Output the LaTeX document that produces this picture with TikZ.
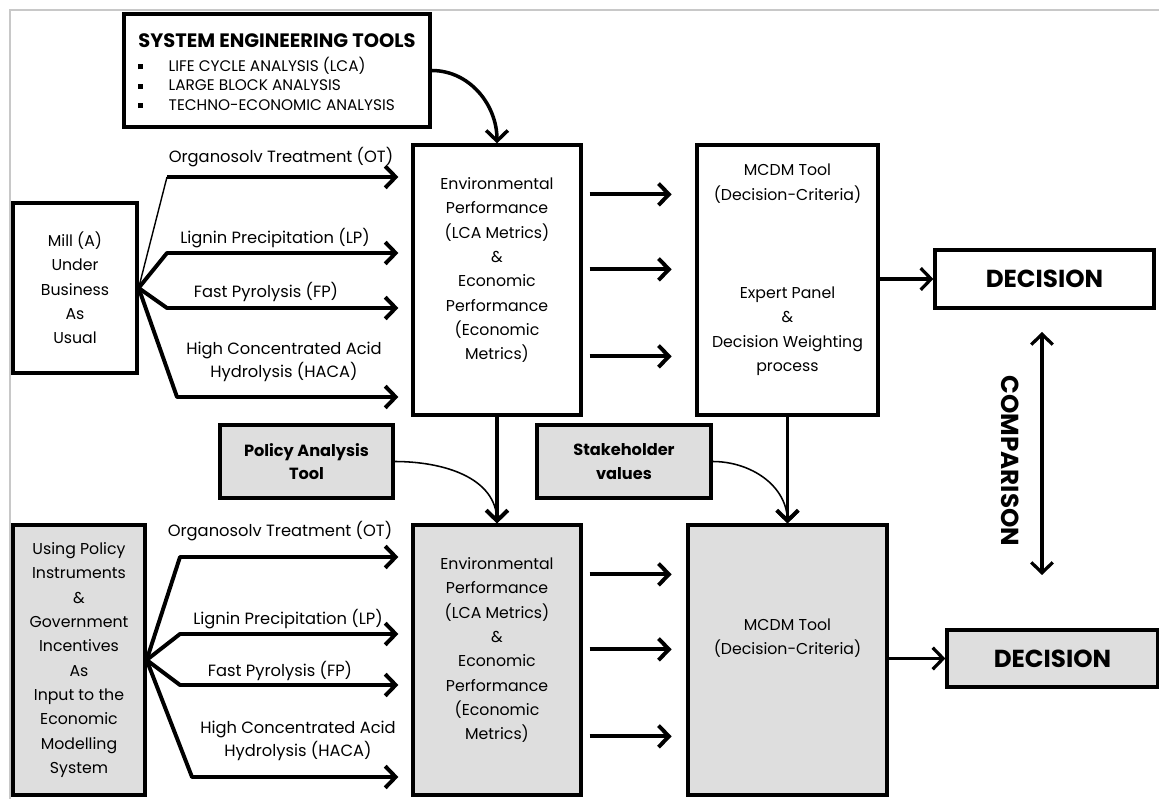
\documentclass[tikz,border=0pt]{standalone}
\usepackage{fontspec}
\setmainfont{Poppins}
\usepackage{tikz}
\usetikzlibrary{arrows.meta}
\definecolor{boxgrey}{RGB}{222,222,222}
\definecolor{framegrey}{RGB}{200,200,200}

\begin{document}
\begin{tikzpicture}[x=0.025cm, y=-0.025cm,
    >={Straight Barb[length=2.6mm, width=5.4mm]},
    every node/.style={font=\fontsize{11.2}{17.3}\selectfont},
    box/.style={draw, line width=2.3pt, inner sep=0pt, align=center},
    greybox/.style={box, fill=boxgrey},
    boldtext/.style={font=\bfseries\fontsize{11.5}{16.5}\selectfont},
    bigtext/.style={font=\bfseries\fontsize{17.5}{20}\selectfont},
    flow/.style={line width=2.8pt, ->, line join=round},
    thinflow/.style={line width=1.1pt, ->},
    route/.style={align=center, font=\fontsize{11.6}{16.5}\selectfont}]

\useasboundingbox (0,0) rectangle (1159,799);
\draw[framegrey, line width=1.4pt] (1159,10) -- (10,10) -- (10,799);

\node[box, minimum width=7.65cm, minimum height=2.825cm,
      font=\fontsize{10.9}{13.8}\selectfont] (tools) at (277,70.5) {%
  \raisebox{-3pt}[\height][\depth]{%
  \begin{tabular}{@{}l@{\hspace{18pt}}l@{}}
    \multicolumn{2}{@{}l@{}}{\bfseries\fontsize{13.8}{18}\selectfont SYSTEM ENGINEERING TOOLS}\\[3pt]
    \rule[1.5pt]{3.5pt}{3.5pt} & LIFE CYCLE ANALYSIS (LCA)\\
    \rule[1.5pt]{3.5pt}{3.5pt} & LARGE BLOCK ANALYSIS\\
    \rule[1.5pt]{3.5pt}{3.5pt} & TECHNO-ECONOMIC ANALYSIS
  \end{tabular}}};

\node[box, minimum width=3.1cm, minimum height=4.25cm] (millA) at (75,288)
  {Mill (A)\\Under\\Business\\As\\Usual};
\node[box, minimum width=4.2cm, minimum height=6.75cm] (envA) at (497,280) {};
\node[align=center] (envAtext) at (497,270)
  {Environmental\\Performance\\(LCA Metrics)\\\&\\Economic\\Performance\\(Economic\\Metrics)};
\node[box, minimum width=4.525cm, minimum height=6.75cm] (mcdmA) at (787.5,280) {};
\node[align=center] (mcdmAtext) at (787.5,270)
  {MCDM Tool\\(Decision-Criteria)\\[1.85cm]Expert Panel\\\&\\Decision Weighting\\process};
\node[box, bigtext, minimum width=5.475cm, minimum height=1.45cm] (decA) at (1044.5,279) {DECISION};

\node[greybox, minimum width=3.3cm, minimum height=6.75cm] (policyIn) at (79,660)
  {Using Policy\\Instruments\\\&\\Government\\Incentives\\As\\Input to the\\Economic\\Modelling\\System};
\node[greybox, boldtext, minimum width=4.325cm, minimum height=1.825cm] (policy) at (306.5,461.5)
  {Policy Analysis\\Tool};
\node[greybox, boldtext, minimum width=4.35cm, minimum height=1.825cm] (stake) at (624,461.5)
  {Stakeholder\\values};
\node[greybox, minimum width=4.2cm, minimum height=6.75cm] (envB) at (497,660) {};
\node[align=center] (envBtext) at (497,650)
  {Environmental\\Performance\\(LCA Metrics)\\\&\\Economic\\Performance\\(Economic\\Metrics)};
\node[greybox, minimum width=4.975cm, minimum height=6.75cm] (mcdmB) at (787.5,660) {};
\node[align=center] (mcdmBtext) at (787.5,638) {MCDM Tool\\(Decision-Criteria)};
\node[greybox, bigtext, minimum width=5.275cm, minimum height=1.425cm] (decB) at (1052.5,658.5) {DECISION};

\node[route] (otA) at (281,157) {Organosolv Treatment (OT)};
\node[route] (lpA) at (275,238) {Lignin Precipitation (LP)};
\node[route] (fpA) at (266,292) {Fast Pyrolysis (FP)};
\node[route] (hacaA) at (284,362) {High Concentrated Acid\\Hydrolysis (HACA)};
\node[route] (otB) at (280,531) {Organosolv Treatment (OT)};
\node[route] (lpB) at (288,619) {Lignin Precipitation (LP)};
\node[route] (fpB) at (280,671) {Fast Pyrolysis (FP)};
\node[route] (hacaB) at (298,741) {High Concentrated Acid\\Hydrolysis (HACA)};

\draw[flow, line width=2.5pt] (tools.east) to[out=0, in=90] (envA.north);

\draw[line width=1pt] (millA.east) -- (167,177);
\draw[flow, shorten >=0.325cm] (167,177) -- (envA.west |- 0,177);
\foreach \kx/\ky in {167/253, 167/308, 177/397}
  \draw[flow, shorten >=0.325cm] (millA.east) -- (\kx,\ky) -- (envA.west |- 0,\ky);
\foreach \kx/\ky in {180/557, 180/634, 180/685, 192/777}
  \draw[flow, shorten >=0.325cm] (policyIn.east) -- (\kx,\ky) -- (envB.west |- 0,\ky);

\foreach \dy in {51,126,213} {
  \draw[flow] ([shift={(7,\dy)}]envA.north east) -- ++(82,0);
  \draw[flow] ([shift={(7,\dy)}]envB.north east) -- ++(82,0);
}

\draw[flow] (envA.south) -- (envB.north);
\draw[flow] (mcdmA.south) -- (mcdmB.north);
\draw[thinflow] (policy.east) to[out=0, in=90] (envB.north);
\draw[thinflow] (stake.east) to[out=0, in=90] (mcdmB.north);

\draw[flow, line width=2.3pt] (mcdmA.east |- decA.west) -- (decA.west);
\draw[flow, line width=2.3pt] (mcdmB.east |- decB.west) -- (decB.west);

\coordinate (cmpTop) at (1042,332);
\coordinate (cmpBot) at (1042,575);
\draw[line width=2.3pt, <->] (cmpTop) -- (cmpBot);
\node[bigtext, rotate=-90] (cmpText) at (1010,461) {COMPARISON};
\end{tikzpicture}
\end{document}
